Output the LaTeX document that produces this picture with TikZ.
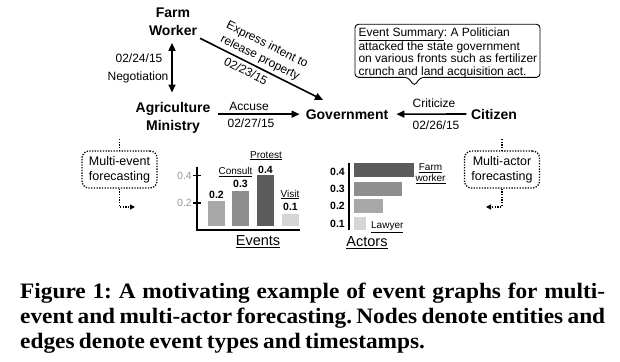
\documentclass[tikz,border=0pt]{standalone}
\usepackage{fontspec}
\setmainfont{Liberation Sans}
\newfontfamily\capfont[FakeStretch=1.06]{Liberation Serif}
\usetikzlibrary{arrows.meta,calc}
\definecolor{tickgray}{HTML}{9A9A9A}
\definecolor{gdark}{HTML}{5C5C5C}
\definecolor{gmid}{HTML}{8E8E8E}
\definecolor{glight}{HTML}{A8A8A8}
\definecolor{gpale}{HTML}{D5D5D5}
\frenchspacing
\begin{document}
\begin{tikzpicture}[x=1pt,y=-1pt,
  ent/.style={font=\fontsize{14}{17.5}\selectfont\bfseries, align=center, inner sep=2pt},
  lbl/.style={font=\fontsize{12}{14}\selectfont, inner sep=0pt, anchor=base},
  slbl/.style={font=\fontsize{12}{14}\selectfont, inner sep=0pt, rotate=-26.6},
  edge/.style={line width=1.6pt, -{Triangle[length=8pt,width=7pt]}},
  fbox/.style={draw, dash pattern=on 1.3pt off 1.4pt, line width=1.3pt, rounded corners=7pt, minimum width=75pt, minimum height=37pt, align=center, font=\fontsize{12.5}{15}\selectfont, inner sep=0pt},
  dline/.style={dash pattern=on 1.3pt off 1.4pt, line width=1.3pt},
  bnum/.style={font=\fontsize{10.5}{12}\selectfont\bfseries, inner sep=0pt, anchor=base},
  bname/.style={font=\fontsize{10}{12}\selectfont, inner sep=0pt, anchor=base},
  tick/.style={font=\fontsize{10.5}{12}\selectfont, text=tickgray, inner sep=0pt, anchor=base east},
  axisline/.style={line width=1.5pt},
  title/.style={font=\fontsize{14.5}{16}\selectfont, inner sep=0pt, anchor=base},
]
\fill[white] (0,0) rectangle (620,361);
\useasboundingbox (0,0) rectangle (620,361);

% entities
\node[ent] (fw) at (173,22) {Farm\\Worker};
\node[ent] (am) at (173,118) {Agriculture\\Ministry};
\node[ent, anchor=base] (gov) at (347,119) {Government};
\node[ent, anchor=base] (cit) at (494,119) {Citizen};

% edges
\draw[line width=1.6pt, {Triangle[length=8pt,width=7pt]}-{Triangle[length=8pt,width=7pt]}, shorten <=5pt, shorten >=8pt]
  ([xshift=-1pt]fw.south) -- ([xshift=-1pt]fw.south |- am.north);
\draw[edge, shorten <=5.5pt, shorten >=4pt] (gov.west -| am.east) -- (gov.west);
\draw[edge, shorten <=2.5pt, shorten >=6pt] (cit.west) -- (gov.east);
\coordinate (govin) at (323,100);
\draw[edge, shorten <=1pt] (fw.south east) -- (govin);

% edge labels
\node[lbl] (l1) at (139,62.3) {02/24/15};
\node[lbl] (l2) at (138,80.3) {Negotiation};
\node[lbl] (l3) at (249,110.3) {Accuse};
\node[lbl] (l4) at (251,127) {02/27/15};
\node[lbl] (l5) at (434,107) {Criticize};
\node[lbl] (l6) at (436,129.3) {02/26/15};
\node[slbl] (l7) at (267,45) {Express intent to};
\node[slbl] (l8) at (260,58) {release property};
\node[slbl] (l9) at (246,71) {02/23/15};

% callout
\node[font=\fontsize{12}{12.5}\selectfont, align=left, inner sep=0pt, anchor=north west] (summ) at (358.3,27.3)
  {\underline{Event Summary}: A Politician\\attacked the state government\\on various fronts such as fertilizer\\crunch and land acquisition act.};
\draw[line width=0.9pt, rounded corners=3.5pt] (414.3,86) -- (408,77.3) -- (355,77.3) -- (355,24.3) -- (540,24.3) -- (540,77.3) -- (420.5,77.3) -- cycle;

% forecasting boxes
\node[fbox] (mev) at (119.5,169.5) {Multi-event\\forecasting};
\node[fbox] (mac) at (502,169.5) {Multi-actor\\forecasting};
\coordinate (mevtop) at (119.5,139);
\coordinate (mactop) at (502,139);
\coordinate (mevout) at (135,207);
\coordinate (macout) at (486,207);
\draw[dline] (mevtop) -- (mev.north);
\draw[dline] (mactop) -- (mac.north);
\draw[dline, -{Triangle[length=5pt,width=5pt]}] (mev.south) |- (mevout);
\draw[dline, -{Triangle[length=5pt,width=5pt]}] (mac.south) |- (macout);

% events chart
\fill[glight] (208,201) rectangle (225,226);
\fill[gmid] (232,191) rectangle (249,226);
\fill[gdark] (257,174.5) rectangle (274,226);
\fill[gpale] (282,214) rectangle (299,226);
\draw[axisline] (197,167) -- (197,230) -- (300,230);
\draw[axisline] (193,175.5) -- (201,175.5);
\draw[axisline] (193,203) -- (201,203);
\node[tick] (t4) at (192,179) {0.4};
\node[tick] (t2) at (192,206.5) {0.2};
\node[bnum] (e1) at (216.5,198.8) {0.2};
\node[bnum] (e2) at (240.5,187.8) {0.3};
\node[bnum] (e3) at (265.5,173.3) {0.4};
\node[bnum] (e4) at (290.5,210.5) {0.1};
\node[bname] (n2) at (235.5,174.3) {\underline{Consult}};
\node[bname] (n3) at (266,158) {\underline{Protest}};
\node[bname] (n4) at (290,197) {\underline{Visit}};
\node[title] (evt) at (258,245.2) {\underline{Events}};

% actors chart
\fill[gdark] (354,163.3) rectangle (413.5,176.7);
\fill[gmid] (354,182) rectangle (402,195.5);
\fill[glight] (354,199.2) rectangle (383,212.5);
\fill[gpale] (354,216.7) rectangle (366,230);
\draw[axisline] (349,163) -- (349,230);
\node[bnum, anchor=base east] (a4) at (345,175.5) {0.4};
\node[bnum, anchor=base east] (a3) at (345,192.1) {0.3};
\node[bnum, anchor=base east] (a2) at (345,209.8) {0.2};
\node[bnum, anchor=base east] (a1) at (345,227.8) {0.1};
\node[bname] (fa) at (430.5,170.3) {\underline{Farm}};
\node[bname] (wo) at (430.5,181.3) {\underline{worker}};
\node[bname] (la) at (387.3,228.6) {\underline{Lawyer}};
\node[title] (act) at (367,246.9) {\underline{Actors}};

% caption
\node[anchor=north west, inner sep=0pt, text width=585pt, align=justify,
  font=\capfont\bfseries\fontsize{22}{25}\selectfont] (cap) at (20,282.8)
  {\spaceskip=0.2em plus 0.4em minus 0.06em
   Figure 1: A motivating example of event graphs for multi-\linebreak event and multi-actor forecasting. Nodes denote entities and\linebreak edges denote event types and timestamps.};
\end{tikzpicture}
\end{document}
